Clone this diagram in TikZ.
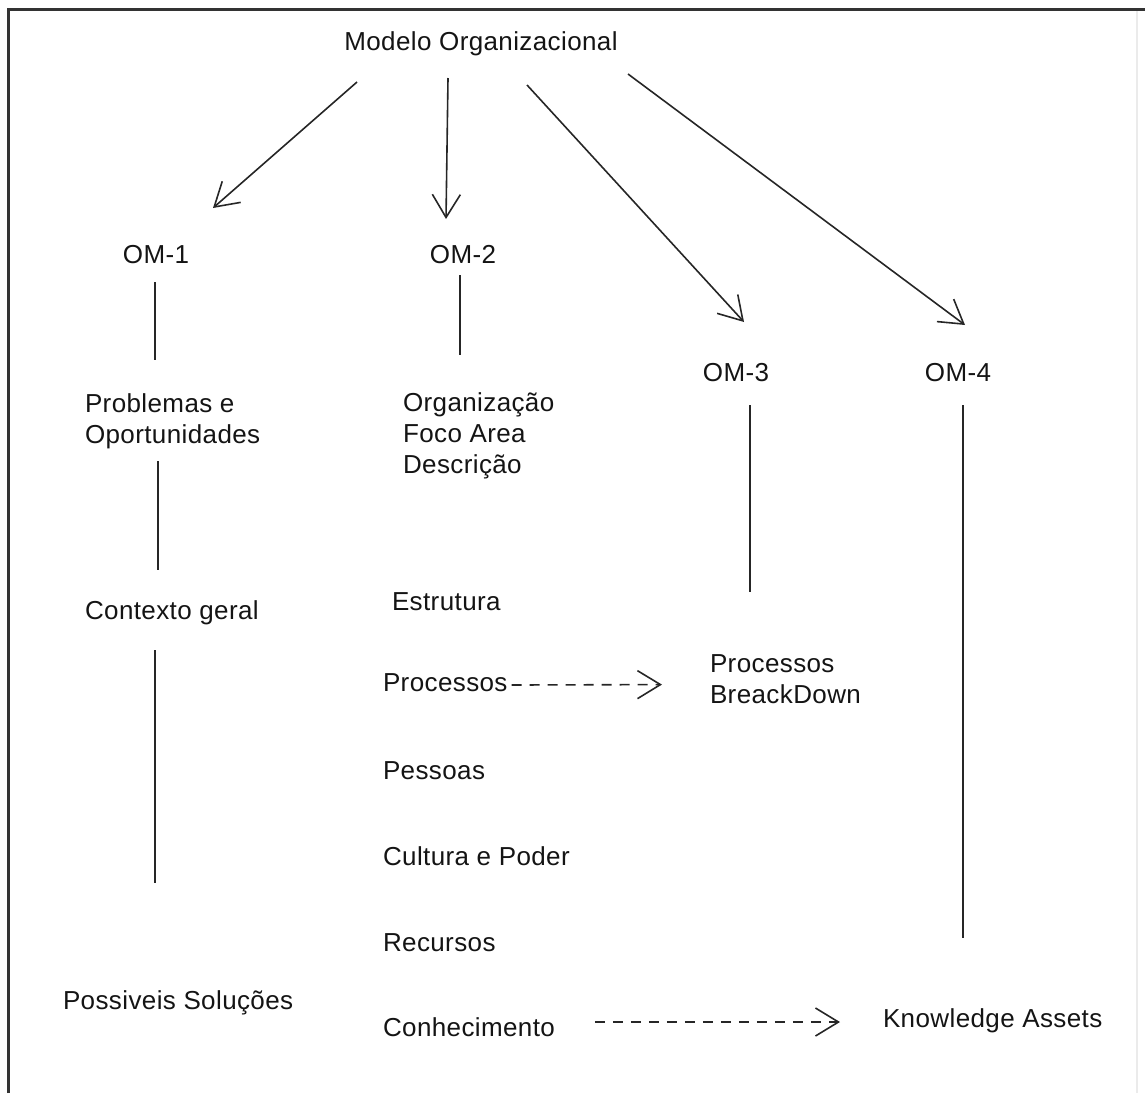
\documentclass[tikz,border=0pt]{standalone}
\usepackage{fontspec}
\setmainfont{Liberation Sans}[LetterSpace=1.5]
\usetikzlibrary{arrows.meta,calc}
\begin{document}
\begin{tikzpicture}[x=1pt,y=-1pt,
  lbl/.style={inner sep=0pt, outer sep=0pt, text=black!92,
    font=\fontsize{26}{31}\selectfont, text height=19pt, text depth=5pt},
  blk/.style={inner sep=0pt, outer sep=0pt, text=black!92,
    font=\fontsize{26}{31}\selectfont, align=left, anchor=north west},
  link/.style={line width=1.6pt, draw=black!85},
  flow/.style={link, -{Straight Barb[length=23pt,width=28pt]}},
  ref/.style={flow, dash pattern=on 10pt off 8pt}]
\useasboundingbox (0,0) rectangle (1145,1093);

% frame
\draw[line width=3pt, black!80] (8,1093) -- (8,9) -- (1145,9);
\draw[line width=1.5pt, black!8] (1137,11) -- (1137,1093);

% labels
\node[lbl, anchor=base] (modelo) at (481,50) {Modelo Organizacional};
\node[lbl, anchor=base] (om1) at (156,263) {OM-1};
\node[lbl, anchor=base] (om2) at (463,263) {OM-2};
\node[lbl, anchor=base] (om3) at (736,381) {OM-3};
\node[lbl, anchor=base] (om4) at (958,381) {OM-4};
\node[blk] (prob) at (85,394) {Problemas e\\Oportunidades};
\node[blk] (org) at (403,393) {Organização\\Foco Area\\Descrição};
\node[lbl, anchor=base west] (ctx) at (85,619) {Contexto geral};
\node[lbl, anchor=base west] (estr) at (392,610) {Estrutura};
\node[lbl, anchor=base west] (proc) at (383,691) {Processos};
\node[blk] (pbd) at (710,655) {Processos\\BreackDown};
\node[lbl, anchor=base west] (pess) at (383,779) {Pessoas};
\node[lbl, anchor=base west] (cult) at (383,865) {Cultura e Poder};
\node[lbl, anchor=base west] (rec) at (383,951) {Recursos};
\node[lbl, anchor=base west] (con) at (383,1036) {Conhecimento};
\node[lbl, anchor=base west] (sol) at (63,1009) {Possiveis Soluções};
\node[lbl, anchor=base west] (ka) at (883,1027) {Knowledge Assets};

% arrows from the model to its four parts
\draw[flow] ($(modelo.south)+(-124,27)$) -- ($(om1.north)+(57,-36)$);
\draw[flow] ($(modelo.south)+(-33,23)$) -- ($(om2.north)+(-17,-25)$);
\draw[flow] ($(modelo.south)+(46,30)$) -- ($(om3.north)+(8,-40)$);
\draw[flow] ($(modelo.south)+(147,19)$) -- ($(om4.north)+(7,-37)$);

% vertical links
\draw[link] ($(om1.south)+(-1,14)$) -- ($(prob.north west)+(70,-34)$);
\draw[link] ($(prob.south west)+(73,12)$) -- ($(ctx.north west)+(73,-30)$);
\draw[link] ($(ctx.south west)+(70,26)$) -- ($(sol.north west)+(92,-107)$);
\draw[link] ($(om2.south)+(-3,7)$) -- ($(org.north west)+(57,-38)$);
\draw[link] ($(om3.south)+(14,19)$) -- ($(pbd.north west)+(40,-63)$);
\draw[link] ($(om4.south)+(5,19)$) -- ($(ka.north west)+(80,-70)$);

% dashed references
\draw[ref] ($(proc.east)+(4,1)$) -- ($(pbd.west)+(-48,5)$);
\draw[ref] ($(con.east)+(40,-7)$) -- ($(ka.west)+(-43,2)$);
\end{tikzpicture}
\end{document}
